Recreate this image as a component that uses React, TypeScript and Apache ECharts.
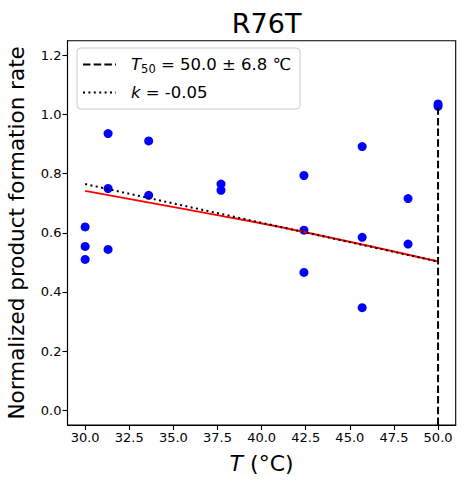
import React, { useEffect, useRef } from "react";
import * as echarts from "echarts";

const temperatures = [30.0, 30.0, 30.0, 31.3, 31.3, 31.3, 33.6, 33.6, 37.7, 37.7, 42.4, 42.4, 42.4, 45.7, 45.7, 45.7, 48.3, 48.3, 50.0, 50.0];
const rates = [0.62, 0.554, 0.51, 0.936, 0.75, 0.544, 0.911, 0.727, 0.765, 0.744, 0.794, 0.609, 0.466, 0.892, 0.585, 0.347, 0.716, 0.562, 1.036, 1.028];

const fitT = [30.0, 36.5, 42.4, 50.0];
const fitRate = [0.742, 0.671, 0.603, 0.503];

const kT = [30.0, 50.0];
const kRate = [0.765, 0.503];

const t50T = [50.0, 50.0];
const t50Rate = [-0.05, 1.036];

const xTicks = [30, 32.5, 35, 37.5, 40, 42.5, 45, 47.5, 50];
const yTicks = [0, 0.2, 0.4, 0.6, 0.8, 1.0, 1.2];

const FONT = "DejaVu Sans";

export default function App() {
  const ref = useRef<HTMLDivElement>(null);
  useEffect(() => {
    if (!ref.current) return;
    const chart = echarts.init(ref.current, null, { renderer: "svg" });
    const zip = (a: number[], b: number[]) => a.map((v, i) => [v, b[i]]);
    chart.setOption({
      animation: false,
      backgroundColor: "#ffffff",
      textStyle: { fontFamily: FONT },
      title: {
        text: "R76T",
        left: 261.6,
        textAlign: "center",
        top: 5,
        textStyle: { fontFamily: FONT, fontSize: 27, fontWeight: "normal", color: "#000" },
      },
      grid: {
        left: 67.5,
        right: 8.3,
        top: 40.7,
        bottom: 62,
        containLabel: false,
        outerBoundsMode: "none",
        show: true,
        borderColor: "#000",
        borderWidth: 1.1,
        backgroundColor: "transparent",
      },
      legend: {
        orient: "vertical",
        left: 77,
        top: 48,
        data: ["T50", "k"],
        itemWidth: 33,
        itemHeight: 14,
        itemGap: 7,
        padding: [6, 9, 6, 5],
        backgroundColor: "rgba(255,255,255,0.8)",
        borderColor: "#cccccc",
        borderWidth: 1,
        borderRadius: 4,
        itemStyle: { opacity: 0 },
        formatter: (name: string) =>
          name === "T50" ? "{i|T}{s|50} = 50.0 ± 6.8 ℃" : "{i|k} = -0.05",
        textStyle: {
          fontFamily: FONT,
          fontSize: 16.5,
          color: "#000",
          padding: [0, 0, 0, 10],
          lineHeight: 21,
          rich: {
            i: { fontFamily: FONT, fontStyle: "italic", fontSize: 16.5, color: "#000", lineHeight: 21 },
            s: { fontFamily: FONT, fontSize: 11.5, color: "#000", verticalAlign: "bottom", lineHeight: 14, padding: [5, 0, 0, 0] },
          },
        },
      },
      xAxis: {
        type: "value",
        min: 29,
        max: 51,
        name: "{i|T} (°C)",
        nameLocation: "middle",
        nameGap: 27,
        nameTextStyle: {
          fontFamily: FONT,
          fontSize: 22,
          color: "#000",
          rich: { i: { fontFamily: FONT, fontStyle: "italic", fontSize: 22, color: "#000" } },
        },
        splitLine: { show: false },
        axisLine: { show: true, onZero: false, lineStyle: { color: "#000", width: 1.1 } },
        axisTick: { show: true, inside: false, length: 5, customValues: xTicks, lineStyle: { color: "#000", width: 1.1 } },
        axisLabel: {
          customValues: xTicks,
          margin: 6,
          fontFamily: FONT,
          fontSize: 13,
          color: "#000",
          formatter: (v: number) => v.toFixed(1),
        },
      },
      yAxis: {
        type: "value",
        min: -0.05,
        max: 1.25,
        name: "Normalized product formation rate",
        nameLocation: "middle",
        nameGap: 40,
        nameTextStyle: { fontFamily: FONT, fontSize: 21.5, color: "#000" },
        splitLine: { show: false },
        axisLine: { show: true, onZero: false, lineStyle: { color: "#000", width: 1.1 } },
        axisTick: { show: true, inside: false, length: 5, customValues: yTicks, lineStyle: { color: "#000", width: 1.1 } },
        axisLabel: {
          customValues: yTicks,
          margin: 6,
          fontFamily: FONT,
          fontSize: 13,
          color: "#000",
          formatter: (v: number) => v.toFixed(1),
        },
      },
      series: [
        {
          type: "scatter",
          name: "data",
          data: zip(temperatures, rates),
          symbolSize: 9,
          itemStyle: { color: "#0000ff", opacity: 1 },
          z: 2,
        },
        {
          type: "line",
          name: "fit",
          data: zip(fitT, fitRate),
          symbol: "none",
          smooth: true,
          lineStyle: { color: "#ff0000", width: 2 },
          z: 3,
        },
        {
          type: "line",
          name: "k",
          data: zip(kT, kRate),
          symbol: "none",
          lineStyle: { color: "#000", width: 2, type: [2, 3.4] },
          itemStyle: { color: "#000" },
          z: 4,
        },
        {
          type: "line",
          name: "T50",
          data: zip(t50T, t50Rate),
          symbol: "none",
          lineStyle: { color: "#000", width: 2, type: [7.5, 3.2] },
          itemStyle: { color: "#000" },
          z: 5,
        },
      ],
    });
    return () => chart.dispose();
  }, []);
  return (
    <div
      ref={ref}
      style={{ position: "fixed", left: 0, top: 0, width: 464, height: 487 }}
    />
  );
}
